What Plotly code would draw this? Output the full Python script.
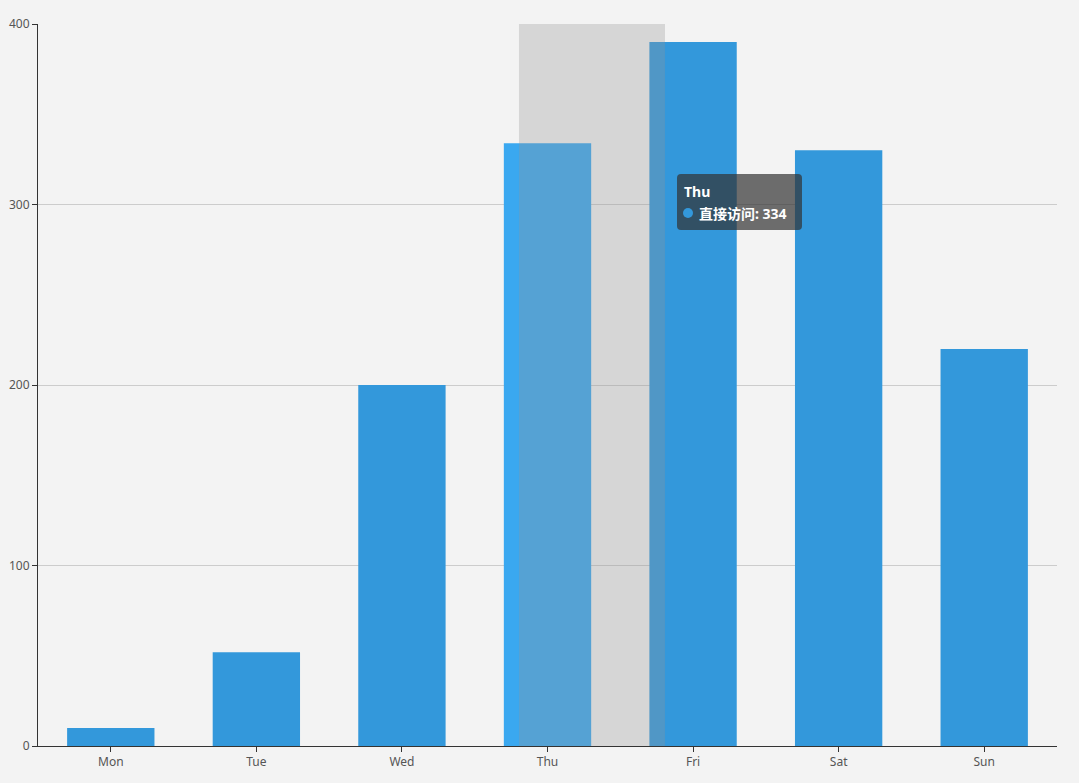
import plotly.graph_objects as go

days = ["Mon", "Tue", "Wed", "Thu", "Fri", "Sat", "Sun"]
visits = [10, 52, 200, 334, 390, 330, 220]
series_name = "直接访问"
hover_day = "Thu"

base_color = "#3398db"
emph_color = "#3aa8f0"
colors = [emph_color if d == hover_day else base_color for d in days]

FONT = "Noto Sans, Noto Sans CJK SC, sans-serif"

fig = go.Figure()
fig.add_trace(go.Bar(
    x=days, y=visits, name=series_name,
    marker=dict(color=colors, line=dict(width=0)),
    width=0.6, hoverinfo="skip",
))

hi = days.index(hover_day)
hv = visits[hi]

shapes = [
    # axis-pointer shadow
    dict(type="rect", xref="x", yref="paper", x0=hi - 0.196, x1=hi + 0.807,
         y0=0, y1=1, fillcolor="rgba(150,150,150,0.3)", line=dict(width=0),
         layer="above"),
]

# tooltip box (rounded rect, pixel-sized, anchored at its top-left)
tx = (677 - 38) / 1019
ty = (746 - 174) / 722
w, h, r = 125, 56, 4
path = (f"M {r},0 L {w-r},0 Q {w},0 {w},{-r} L {w},{-(h-r)} Q {w},{-h} {w-r},{-h} "
        f"L {r},{-h} Q 0,{-h} 0,{-(h-r)} L 0,{-r} Q 0,0 {r},0 Z")
shapes.append(dict(type="path", xref="paper", yref="paper", xsizemode="pixel",
                   ysizemode="pixel", xanchor=tx, yanchor=ty, path=path,
                   fillcolor="rgba(50,50,50,0.7)", line=dict(width=0), layer="above"))
# legend dot in tooltip
shapes.append(dict(type="circle", xref="paper", yref="paper", xsizemode="pixel",
                   ysizemode="pixel", xanchor=tx, yanchor=ty,
                   x0=6, x1=16, y0=-34, y1=-44, fillcolor=base_color,
                   line=dict(width=0), layer="above"))

annotations = [
    dict(xref="paper", yref="paper", x=(682 - 38) / 1019, y=(746 - 180) / 722,
         xanchor="left", yanchor="top", showarrow=False, text="<b>" + hover_day + "</b>",
         font=dict(family=FONT, size=14, color="#ffffff")),
    dict(xref="paper", yref="paper", x=(697 - 38) / 1019, y=(746 - 202) / 722,
         xanchor="left", yanchor="top", showarrow=False,
         text=f"<b>{series_name}: {hv}</b>",
         font=dict(family=FONT, size=14, color="#ffffff")),
]

fig.update_layout(
    width=1079, height=783,
    margin=dict(l=38, r=22, t=24, b=37),
    paper_bgcolor="#f3f3f3", plot_bgcolor="#f3f3f3",
    showlegend=False, bargap=0.4,
    font=dict(family=FONT, size=12, color="#444"),
    xaxis=dict(type="category", range=[-0.5, 6.5], showline=True,
               linecolor="#333", linewidth=1, ticks="outside", ticklen=5,
               tickcolor="#333", showgrid=False, zeroline=False, automargin=False,
               tickfont=dict(size=12, color="#555")),
    yaxis=dict(range=[0, 400], tickvals=[0, 100, 200, 300, 400], showline=True,
               linecolor="#333", linewidth=1, ticks="outside", ticklen=5,
               tickcolor="#333", gridcolor="#cccccc", zeroline=False, automargin=False,
               tickfont=dict(size=12, color="#555")),
    shapes=shapes, annotations=annotations,
)

fig.write_html("out.html", config={"displayModeBar": False},
               post_script="document.body.style.margin='0';document.body.style.background='#f3f3f3';")
